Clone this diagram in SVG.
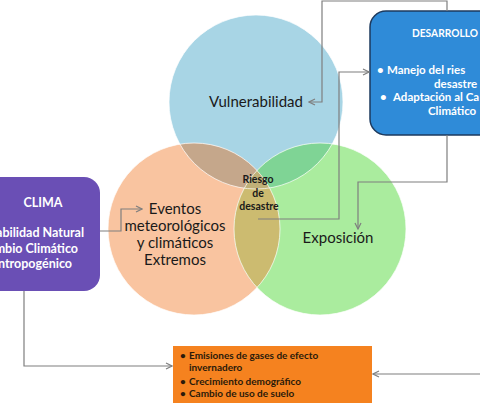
<svg xmlns="http://www.w3.org/2000/svg" width="480" height="407" viewBox="0 0 480 407">
<style>
.lbl{font-family:Lato,"Open Sans",sans-serif;font-size:15px;fill:#1a1a1a;text-anchor:middle}
.wb{font-family:Lato,"Open Sans",sans-serif;font-weight:bold;fill:#ffffff;font-size:12.5px}
.wd{font-family:Lato,"Open Sans",sans-serif;font-weight:bold;fill:#ffffff;font-size:11.5px}
.dk{font-family:Lato,"Open Sans",sans-serif;font-weight:bold;fill:#2a1a0a;font-size:10px}
.rk{font-family:Lato,"Open Sans",sans-serif;font-weight:bold;fill:#1a1a1a;font-size:10.5px;text-anchor:middle}
.conn{fill:none;stroke:#7f7f7f;stroke-width:1.2}
.ring{fill:none;stroke:#ffffff;stroke-width:1;stroke-opacity:0.7}
</style>
<defs>
<marker id="arr" viewBox="0 0 8 8" refX="7" refY="4" markerWidth="8" markerHeight="8" markerUnits="userSpaceOnUse" orient="auto">
<path d="M1,1 L7,4 L1,7" fill="none" stroke="#7f7f7f" stroke-width="1.2"/>
</marker>
<clipPath id="cB"><circle cx="256" cy="102" r="87"/></clipPath>
<clipPath id="cO"><circle cx="194" cy="229" r="86"/></clipPath>
</defs>
<rect width="480" height="407" fill="#ffffff"/>

<g id="venn">
<circle cx="256" cy="102" r="87" fill="#a8d5e5"/>
<circle cx="194" cy="229" r="86" fill="#f9c4a0"/>
<circle cx="320" cy="229" r="86" fill="#aaec9e"/>
<circle cx="194" cy="229" r="86" fill="#c5a78b" clip-path="url(#cB)"/>
<circle cx="320" cy="229" r="86" fill="#7fd495" clip-path="url(#cB)"/>
<g clip-path="url(#cO)"><circle cx="320" cy="229" r="86" fill="#ccbb70"/></g>
<g clip-path="url(#cB)"><g clip-path="url(#cO)"><circle cx="320" cy="229" r="86" fill="#c0b078"/></g></g>
<circle class="ring" cx="256" cy="102" r="87"/>
<circle class="ring" cx="194" cy="229" r="86"/>
<circle class="ring" cx="320" cy="229" r="86"/>
</g>

<g id="vulnerabilidad">
<text class="lbl" x="256" y="107">Vulnerabilidad</text>
</g>
<g id="eventos">
<text class="lbl"><tspan x="175" y="214">Eventos</tspan><tspan x="175" y="231">meteorológicos</tspan><tspan x="175" y="248">y climáticos</tspan><tspan x="175" y="265">Extremos</tspan></text>
</g>
<g id="exposicion">
<text class="lbl" x="338" y="243">Exposición</text>
</g>
<g id="riesgo">
<text class="rk"><tspan x="258" y="183">Riesgo</tspan><tspan x="258" y="197">de</tspan><tspan x="259" y="210">desastre</tspan></text>
</g>

<g id="clima">
<rect x="-30" y="177" width="130" height="114" rx="16" fill="#6a4fb5"/>
<text class="wb" x="43" y="207" text-anchor="middle">CLIMA</text>
<text class="wb" text-anchor="end"><tspan x="84" y="237">abilidad Natural</tspan><tspan x="78" y="253">mbio Climático</tspan><tspan x="72" y="268">ntropogénico</tspan></text>
</g>

<g id="desarrollo">
<rect x="370" y="11" width="140" height="124" rx="16" fill="#2f8bd8" stroke="#1d3a5e" stroke-width="1.5"/>
<text class="wd" x="412" y="37" textLength="66" lengthAdjust="spacingAndGlyphs">DESARROLLO</text>
<text class="wd"><tspan x="377" y="74">•</tspan><tspan x="387" y="74">Manejo del ries</tspan><tspan x="434" y="88">desastre</tspan><tspan x="380" y="101">•</tspan><tspan x="393" y="101">Adaptación al Ca</tspan><tspan x="428" y="115">Climático</tspan></text>
</g>

<g id="impulsores">
<rect x="173" y="346" width="199" height="57" fill="#f5821f"/>
<text class="dk"><tspan x="180" y="359">•</tspan><tspan x="189" y="359">Emisiones de gases de efecto</tspan><tspan x="189" y="371">invernadero</tspan><tspan x="180" y="385">•</tspan><tspan x="189" y="385">Crecimiento demográfico</tspan><tspan x="180" y="397">•</tspan><tspan x="189" y="397">Cambio de uso de suelo</tspan></text>
</g>

<g id="connectors">
<path class="conn" d="M447,11 V1 H322 V102 H309" marker-end="url(#arr)"/>
<path class="conn" d="M258,219 H339 V72 H369" marker-end="url(#arr)"/>
<path class="conn" d="M447,135 V182 H358 V229" marker-end="url(#arr)"/>
<path class="conn" d="M480,374 H373" marker-end="url(#arr)"/>
<path class="conn" d="M100,231 H121 V209 H142" marker-end="url(#arr)"/>
<path class="conn" d="M24,291 V366 H172" marker-end="url(#arr)"/>
</g>
</svg>
